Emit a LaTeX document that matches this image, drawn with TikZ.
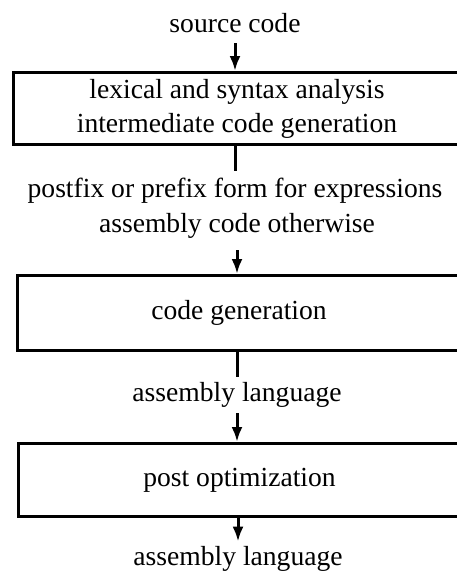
\documentclass[tikz,border=0pt]{standalone}
\usepackage{fontspec}
\setmainfont{Liberation Serif}
\usetikzlibrary{arrows.meta}
\begin{document}
\begin{tikzpicture}[x=1pt,y=-1pt,
  txt/.style={font=\fontsize{27.6}{34}\selectfont, inner sep=0pt, anchor=base},
  box/.style={draw, line width=3pt, rectangle, inner sep=0pt, anchor=north west,
    font=\fontsize{27.6}{34}\selectfont, align=center},
  arr/.style={line width=3pt, -{Latex[length=15pt,width=11pt]}},
  ln/.style={line width=3pt}]
\useasboundingbox (0,0) rectangle (456,573);
\node[txt] (src) at (235,32) {source code};
\node[box, minimum width=447pt, minimum height=72pt] (b1) at (12,71)
  {lexical and syntax analysis\\intermediate code generation};
\node[txt] (m1) at (235,197) {postfix or prefix form for expressions};
\node[txt] (m2) at (237,232) {assembly code otherwise};
\node[box, minimum width=443pt, minimum height=75pt] (b2) at (16,274) {code generation};
\node[txt] (l1) at (237,401) {assembly language};
\node[box, minimum width=442pt, minimum height=73pt] (b3) at (17,442) {post optimization};
\node[txt] (l2) at (238,565) {assembly language};
\draw[arr, shorten <=11pt] (src.south) -- (src.south |- b1.north);
\draw[ln, shorten >=6pt] (src.south |- b1.south) -- (src.south |- m1.north);
\draw[arr, shorten <=12pt] (m2.south) -- (m2.south |- b2.north);
\draw[ln, shorten >=5pt] (b2.south -| l1.north) -- (l1.north);
\draw[arr, shorten <=6pt] (l1.south) -- (l1.south |- b3.north);
\draw[arr, shorten >=4pt] (b3.south -| l2.north) -- (l2.north);
\end{tikzpicture}
\end{document}
